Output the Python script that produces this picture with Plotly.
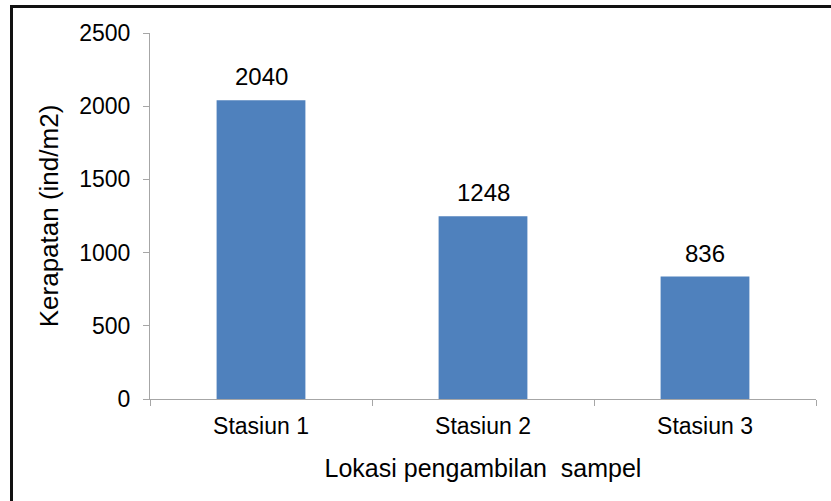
import plotly.graph_objects as go

categories = ["Stasiun 1", "Stasiun 2", "Stasiun 3"]
values = [2040, 1248, 836]
y_ticks = [0, 500, 1000, 1500, 2000, 2500]

W, H = 831, 501
L, R, T, B = 150, 15, 33, 102
pw, ph = W - L - R, H - T - B

def px_x(p):
    return (p - L) / pw

def px_y(p):
    return (H - B - p) / ph

fig = go.Figure()
fig.add_trace(go.Bar(
    x=categories, y=values,
    marker=dict(color="#4F81BD", line=dict(width=0)),
    width=0.4,
))

for c, v in zip(categories, values):
    fig.add_annotation(x=c, y=v, text=str(v), showarrow=False,
                       yanchor="bottom", yshift=8,
                       font=dict(family="Liberation Sans, Arial", size=24, color="#000"))

fig.add_shape(type="rect", xref="paper", yref="paper",
              x0=px_x(11.5), x1=px_x(845), y0=px_y(515), y1=px_y(6.5),
              line=dict(color="#111", width=3), layer="above")

fig.update_layout(
    width=W, height=H,
    margin=dict(l=L, r=R, t=T, b=B, pad=0),
    paper_bgcolor="white", plot_bgcolor="white",
    showlegend=False,
    font=dict(family="Liberation Sans, Arial", size=23, color="#000"),
    xaxis=dict(
        showline=True, linecolor="#A6A6A6", linewidth=1,
        ticks="outside", tickson="boundaries", ticklen=6, tickcolor="#A6A6A6",
        tickfont=dict(size=23), ticklabelstandoff=6,
        showgrid=False, zeroline=False,
        title=dict(text="Lokasi pengambilan  sampel", font=dict(size=25), standoff=21),
    ),
    yaxis=dict(
        range=[0, 2500], tickvals=y_ticks,
        showline=True, linecolor="#A6A6A6", linewidth=1,
        ticks="outside", ticklen=6, tickcolor="#A6A6A6",
        tickfont=dict(size=23), ticklabelstandoff=8,
        showgrid=False, zeroline=False,
        title=dict(text="Kerapatan (ind/m2)", font=dict(size=26), standoff=13),
    ),
)

fig.write_html("out.html")
